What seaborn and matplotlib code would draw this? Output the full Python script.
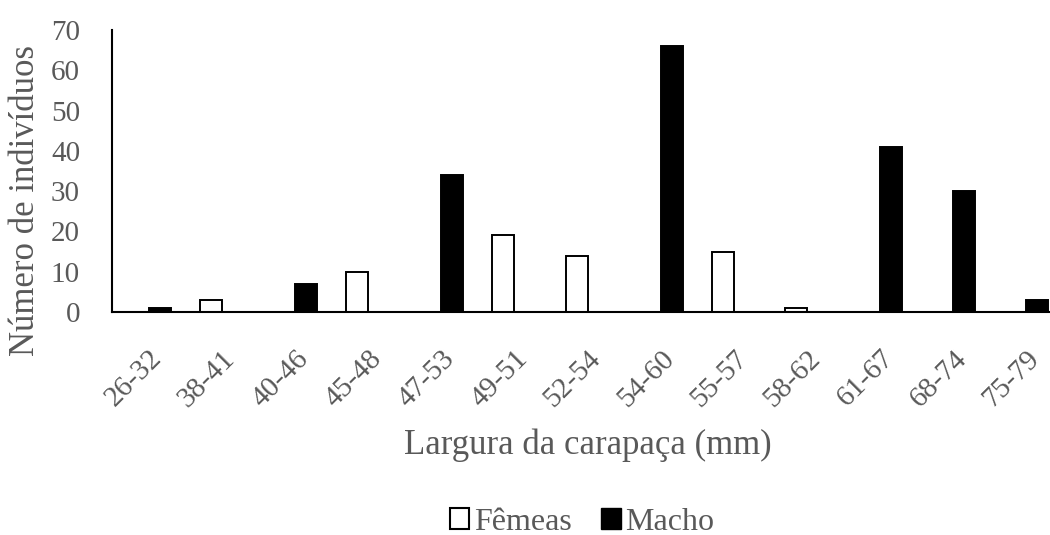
import numpy as np
import pandas as pd
import matplotlib
matplotlib.use("Agg")
import matplotlib.pyplot as plt
import seaborn as sns
from matplotlib.patches import Patch

classes = ["26-32", "38-41", "40-46", "45-48", "47-53", "49-51", "52-54",
           "54-60", "55-57", "58-62", "61-67", "68-74", "75-79"]
femeas = [0, 3, 0, 10, 0, 19, 14, 0, 15, 1, 0, 0, 0]
macho = [1, 0, 7, 0, 34, 0, 0, 66, 0, 0, 41, 30, 3]
groups = ["Fêmeas", "Macho"]
y_ticks = [0, 10, 20, 30, 40, 50, 60, 70]

df = pd.DataFrame({
    "classe": classes * 2,
    "sexo": [groups[0]] * len(classes) + [groups[1]] * len(classes),
    "n": femeas + macho,
})

sns.set_theme(style="white")
plt.rcParams["font.family"] = ["Liberation Serif", "DejaVu Serif"]
gray = "#595959"

W, H = 1050, 535
fig = plt.figure(figsize=(W / 100, H / 100), dpi=100)
ax = fig.add_axes([112 / W, 223 / H, 951 / W, 282 / H])

sns.barplot(data=df, x="classe", y="n", hue="sexo", hue_order=groups,
            palette={"Fêmeas": "white", "Macho": "black"}, width=0.6,
            edgecolor="black", linewidth=1.4, saturation=1, ax=ax,
            legend=False)

ax.set_ylim(0, 70)
ax.set_yticks(y_ticks)
ax.set_xlim(-0.5, len(classes) - 0.5)
for s in ["top", "right"]:
    ax.spines[s].set_visible(False)
for s in ["left", "bottom"]:
    ax.spines[s].set_color("black")
    ax.spines[s].set_linewidth(1.5)
ax.tick_params(axis="both", length=0, labelsize=21, labelcolor=gray)
ax.tick_params(axis="y", pad=23)
ax.tick_params(axis="x", pad=24)
plt.setp(ax.get_xticklabels(), rotation=45, ha="right", rotation_mode="anchor")

ax.set_ylabel("Número de indivíduos", fontsize=25, color=gray)
ax.yaxis.label.set_va("center")
ax.yaxis.set_label_coords((26 - 112) / 951, (312 - 201) / 282)
ax.set_xlabel("Largura da carapaça (mm)", fontsize=25, color=gray)
ax.xaxis.set_label_coords(0.5, (312 - 428) / 282)

handles = [Patch(facecolor="white", edgecolor="black", linewidth=1.5),
           Patch(facecolor="black", edgecolor="black")]
leg = fig.legend(handles, groups, loc="center",
                 bbox_to_anchor=(582 / W, 1 - 522 / H),
                 ncol=2, frameon=False, fontsize=23, handlelength=0.62,
                 handleheight=0.62, handletextpad=0.15, columnspacing=0.9,
                 borderpad=0, borderaxespad=0)
for t in leg.get_texts():
    t.set_color(gray)

fig.savefig("out.png", dpi=100)
